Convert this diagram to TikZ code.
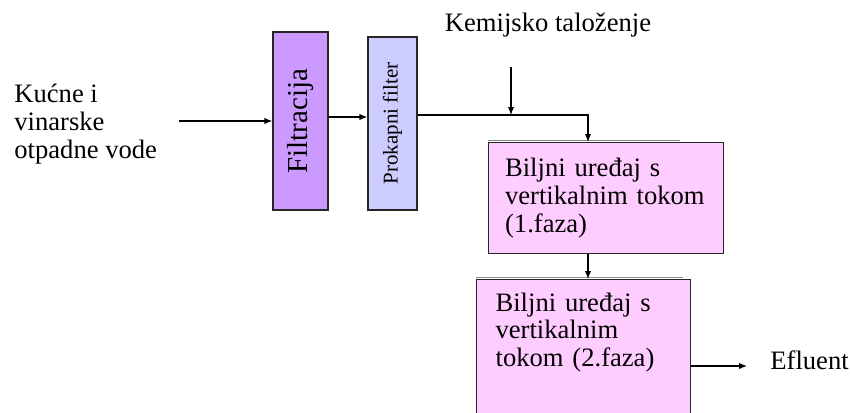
\documentclass[tikz,border=0pt]{standalone}
\usepackage{fontspec}
\usepackage{graphicx}
\setmainfont{Liberation Serif}
\usetikzlibrary{arrows.meta,positioning,calc}

\definecolor{filtboja}{HTML}{CC99FF}
\definecolor{prokboja}{HTML}{CCCCFF}
\definecolor{fazaboja}{HTML}{FFCCFF}

\newcommand{\tekst}{\fontsize{13.3pt}{13.8pt}\selectfont}

\tikzset{
 arr/.style={-{Latex[length=4pt,width=3.2pt]}, line width=0.6pt},
 okvir/.style={draw=black!85, line width=0.6pt, inner sep=0pt},
 faza/.style={okvir, fill=fazaboja, align=left, anchor=north west, inner xsep=10pt},
 senka/.style={draw=black!45, line width=0.8pt}
}

\begin{document}
\begin{tikzpicture}[x=0.5pt, y=-0.5pt, font=\tekst]
 \useasboundingbox (0,0) rectangle (850,412);

 \node[okvir, fill=filtboja, minimum width=27.5pt, minimum height=89pt] (filt) at (300.5,121) {\rotatebox{90}{\fontsize{14.5pt}{15pt}\selectfont Filtracija}};
 \node[okvir, fill=prokboja, minimum width=24.5pt, minimum height=86.5pt] (prok) at (392.5,123.5) {\rotatebox{90}{\fontsize{10.5pt}{11pt}\selectfont Prokapni filter}};

 \node[faza, minimum width=117.5pt, minimum height=55.5pt, text width=101pt, inner xsep=8.25pt] (b1) at (488,142) {Biljni uređaj s\\ vertikalnim tokom\\ (1.faza)};
 \node[faza, text width=88pt, inner xsep=9.5pt, inner ysep=6.5pt, text depth=51pt] (b2) at (476,279) {Biljni uređaj s\\ vertikalnim\\ tokom (2.faza)};
 \draw[senka] ([yshift=0.8pt]b1.north west) -- ++(192,0);
 \draw[senka] ([yshift=0.8pt]b2.north west) -- ++(207,0);

 \node[align=left, anchor=north west, inner sep=0pt] (ulazt) at (14,84) {Kućne i\\ vinarske\\ otpadne vode};
 \node[anchor=base, inner sep=0pt] (kemt) at (548,32) {Kemijsko taloženje};
 \node[anchor=base west, inner sep=0pt] (efl) at (770,369) {Efluent};

 \coordinate (ulaz) at (179,121);
 \coordinate (kem) at (511,67);
 \coordinate (spoj) at (511,115);
 \coordinate (os) at (588,0);
 \coordinate (izlaz) at (747,366);

 \draw[arr] (ulaz) -- (filt.west);
 \draw[arr] ([yshift=2pt]filt.east) -- ([yshift=2pt]filt.east -| prok.west);
 \draw[arr] (prok.east |- spoj) -| (os |- b1.north);
 \draw[arr] (kem) -- (spoj);
 \draw[arr] (os |- b1.south) -- (os |- b2.north);
 \draw[arr] (b2.east |- izlaz) -- (izlaz);
\end{tikzpicture}
\end{document}
